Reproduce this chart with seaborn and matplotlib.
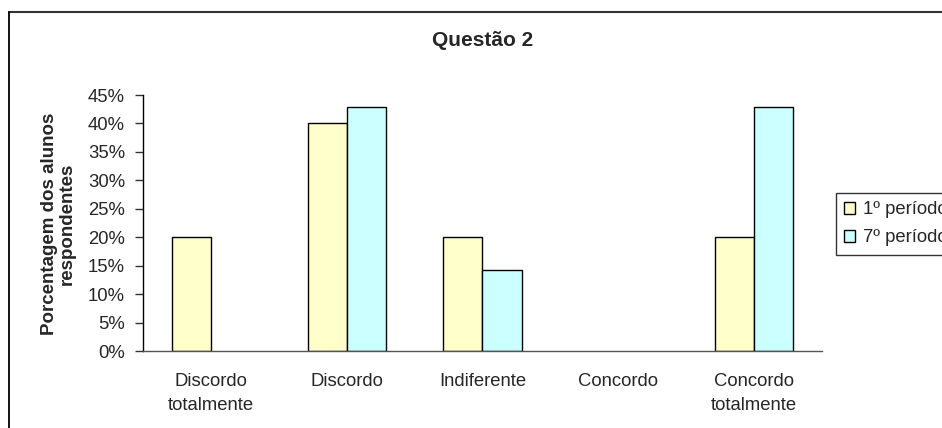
import matplotlib
matplotlib.use("Agg")
import matplotlib.pyplot as plt
from matplotlib.lines import Line2D
from matplotlib.patches import Patch
from matplotlib.ticker import FixedLocator, PercentFormatter
import seaborn as sns
import pandas as pd

categories = ["Discordo\ntotalmente", "Discordo", "Indiferente", "Concordo", "Concordo\ntotalmente"]
series_names = ["1º período", "7º período"]
values_1 = [20.0, 40.0, 20.0, 0.0, 20.0]
values_7 = [0.0, 42.86, 14.29, 0.0, 42.86]
yticks = [0, 5, 10, 15, 20, 25, 30, 35, 40, 45]
title = "Questão 2"
ylabel = "Porcentagem dos alunos\nrespondentes"
colors = ["#FFFFCC", "#CCFFFF"]

df = pd.DataFrame({
    "categoria": categories * 2,
    "valor": values_1 + values_7,
    "serie": [series_names[0]] * 5 + [series_names[1]] * 5,
})

sns.set_style("white")
plt.rcParams["font.family"] = ["Liberation Sans", "DejaVu Sans"]

W, H = 942, 428
fig = plt.figure(figsize=(W / 100, H / 100), dpi=100)
ax = fig.add_axes([143 / W, 1 - 351 / H, (822 - 143) / W, (351 - 95) / H])

sns.barplot(data=df, x="categoria", y="valor", hue="serie", order=categories,
            hue_order=series_names, palette=colors,
            edgecolor="black", linewidth=1.0, width=0.575, gap=0,
            saturation=1, ax=ax, legend=False)

for p in ax.patches:
    if p.get_height() == 0:
        p.set_visible(False)

ax.set_xlim(-0.5, 4.5)
ax.set_ylim(0, 45)
ax.set_yticks(yticks)
ax.yaxis.set_major_formatter(PercentFormatter(decimals=0))
ax.set_xlabel("")
ax.set_ylabel("")

ax.xaxis.set_minor_locator(FixedLocator([i - 0.5 for i in range(6)]))
ax.tick_params(axis="x", which="major", length=0, pad=16, labelsize=13.3)
ax.tick_params(axis="x", which="minor", length=6, width=1, color="#555555", direction="out")
ax.tick_params(axis="y", which="major", length=6, width=1, color="#333333",
               direction="out", pad=7, labelsize=13.3, left=True)
for lab in ax.get_xticklabels():
    lab.set_linespacing(1.5)

for s in ["top", "right"]:
    ax.spines[s].set_visible(False)
ax.spines["left"].set_color("black")
ax.spines["left"].set_linewidth(1.0)
ax.spines["bottom"].set_color("#555555")
ax.spines["bottom"].set_linewidth(1.0)

fig.text(483 / W, 1 - 40 / H, title, ha="center", va="center",
         fontsize=15, fontweight="bold")
fig.text(58 / W, 1 - 224 / H, ylabel, ha="center", va="center", rotation=90,
         multialignment="center", fontsize=13.5, fontweight="bold", linespacing=1.05)

handles = [Patch(facecolor=c, edgecolor="black", linewidth=1.0) for c in colors]
leg = fig.legend(handles, series_names, loc="upper left",
                 bbox_to_anchor=(836 / W, 1 - 193 / H), frameon=True,
                 fancybox=False, edgecolor="black", fontsize=13.3,
                 handlelength=0.6, handleheight=0.6, handletextpad=0.4,
                 borderpad=0.45, labelspacing=0.6, borderaxespad=0)
leg.get_frame().set_linewidth(1.0)

fig.add_artist(Line2D([9 / W, 1.0], [1 - 12 / H, 1 - 12 / H], transform=fig.transFigure,
                      color="#333333", linewidth=1.5))
fig.add_artist(Line2D([9 / W, 9 / W], [0.0, 1 - 12 / H], transform=fig.transFigure,
                      color="black", linewidth=1.3))

fig.savefig("out.png", dpi=100)
